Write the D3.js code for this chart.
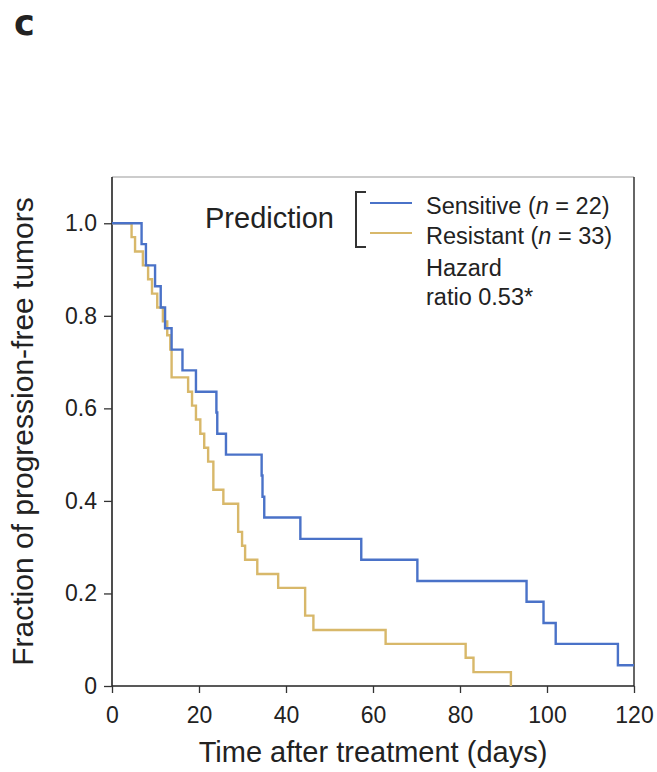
<!DOCTYPE html>
<html>
<head>
<meta charset="utf-8">
<script src="https://cdn.jsdelivr.net/npm/d3@7"></script>
<style>
  body { margin: 0; background: #fff; }
  text { font-family: "Liberation Sans", Arial, sans-serif; fill: #222; }
</style>
</head>
<body>
<div id="chart"></div>
<script>
// Kaplan-Meier steps (days, fraction progression-free)
let sensitive_days = [0, 6.8, 7.8, 9.9, 11.2, 12.2, 13.7, 16.2, 19.3, 24.0, 24.2, 26.2, 34.4, 34.6, 35.0, 43.3, 57.3, 70.2, 95.3, 99.2, 102.0, 116.3, 120];
let sensitive_frac = [1, 0.955, 0.909, 0.864, 0.818, 0.773, 0.727, 0.682, 0.636, 0.591, 0.545, 0.5, 0.455, 0.409, 0.364, 0.318, 0.273, 0.227, 0.182, 0.136, 0.091, 0.045, 0.045];

let resistant_days = [0, 4.5, 5.3, 7.1, 8.3, 9.2, 10.4, 11.7, 12.7, 13.4, 13.7, 17.5, 18.4, 19.3, 20.3, 21.2, 22.1, 23.3, 25.6, 29.0, 29.9, 30.6, 33.4, 38.2, 44.4, 46.3, 62.9, 81.3, 83.1, 91.7];
let resistant_frac = [1, 0.970, 0.939, 0.909, 0.879, 0.848, 0.818, 0.788, 0.758, 0.727, 0.667, 0.636, 0.606, 0.576, 0.545, 0.515, 0.485, 0.424, 0.394, 0.333, 0.303, 0.273, 0.242, 0.212, 0.152, 0.121, 0.091, 0.061, 0.030, 0];

let x_ticks = [0, 20, 40, 60, 80, 100, 120];
let y_ticks = [0, 0.2, 0.4, 0.6, 0.8, 1.0];
let y_tick_labels = ['0', '0.2', '0.4', '0.6', '0.8', '1.0'];

let chart_width  = 657;
let chart_height = 772;
let plot_left = 112, plot_right = 634, plot_top = 177, plot_bottom = 686;

let blue   = '#4a72c8';
let yellow = '#d8b86a';

//svg
let svg = d3.select('#chart')
            .append('svg')
            .attr('width', chart_width)
            .attr('height', chart_height);

//scales
let x_scale = d3.scaleLinear()
        .domain([0, 120])
        .range([plot_left, plot_right]);

let y_scale = d3.scaleLinear()
        .domain([0, 1.1])
        .range([plot_bottom, plot_top]);

//frame (top + right)
svg.append('line')
  .attr('x1', plot_left).attr('x2', plot_right)
  .attr('y1', plot_top).attr('y2', plot_top)
  .attr('stroke', '#9a9a9a').attr('stroke-width', 1.2);
svg.append('line')
  .attr('x1', plot_right).attr('x2', plot_right)
  .attr('y1', plot_top).attr('y2', plot_bottom)
  .attr('stroke', '#333').attr('stroke-width', 1.5);

//axes
let x_axis = d3.axisBottom(x_scale)
                .tickValues(x_ticks)
                .tickSize(7)
                .tickPadding(14)
                .tickSizeOuter(0);

let y_axis = d3.axisLeft(y_scale)
                .tickValues(y_ticks)
                .tickFormat((d, i) => y_tick_labels[i])
                .tickSize(8)
                .tickPadding(7)
                .tickSizeOuter(0);

let gx = svg.append('g')
  .attr('transform', 'translate(0,' + plot_bottom + ')')
  .call(x_axis);

let gy = svg.append('g')
  .attr('transform', 'translate(' + plot_left + ',0)')
  .call(y_axis);

gx.select('.domain').attr('d', 'M' + plot_left + ',0H' + plot_right);
gy.select('.domain').attr('d', 'M0,' + plot_top + 'V' + plot_bottom);

[gx, gy].forEach(g => {
  g.selectAll('.domain').attr('stroke', '#222').attr('stroke-width', 1.6);
  g.selectAll('.tick line').attr('stroke', '#333').attr('stroke-width', 1.3);
  g.selectAll('.tick text')
    .style('font-family', '"Liberation Sans", Arial, sans-serif')
    .style('font-size', '23px')
    .attr('fill', '#222');
});

//curves
let line = d3.line()
  .x(d => x_scale(d[0]))
  .y(d => y_scale(d[1]))
  .curve(d3.curveStepAfter);

let series = [
  { color: yellow, pts: d3.zip(resistant_days, resistant_frac) },
  { color: blue,   pts: d3.zip(sensitive_days, sensitive_frac) }
];

svg.append('g')
  .selectAll('path')
  .data(series)
  .enter()
  .append('path')
  .attr('d', d => line(d.pts))
  .attr('fill', 'none')
  .attr('stroke', d => d.color)
  .attr('stroke-width', 2.4);

//axis titles
svg.append('text')
  .attr('x', (plot_left + plot_right) / 2)
  .attr('y', 762)
  .attr('text-anchor', 'middle')
  .style('font-size', '29px')
  .text('Time after treatment (days)');

svg.append('text')
  .attr('transform', 'translate(33,' + (plot_top + plot_bottom) / 2 + ') rotate(-90)')
  .attr('text-anchor', 'middle')
  .style('font-size', '30px')
  .text('Fraction of progression-free tumors');

//legend
svg.append('text')
  .attr('x', 205).attr('y', 228)
  .style('font-size', '29px')
  .text('Prediction');

svg.append('path')
  .attr('d', 'M366,192H356V247H366')
  .attr('fill', 'none')
  .attr('stroke', '#333')
  .attr('stroke-width', 2);

let legend_items = [
  { label: 'Sensitive', n: '22', color: blue, y: 203 },
  { label: 'Resistant', n: '33', color: yellow, y: 233 }
];

let lg = svg.append('g')
  .selectAll('g')
  .data(legend_items)
  .enter()
  .append('g');

lg.append('line')
  .attr('x1', 370).attr('x2', 412)
  .attr('y1', d => d.y).attr('y2', d => d.y)
  .attr('stroke', d => d.color)
  .attr('stroke-width', 2);

let lt = lg.append('text')
  .attr('x', 426)
  .attr('y', d => d.y + 11)
  .style('font-size', '23.5px');
lt.append('tspan').text(d => d.label + ' (');
lt.append('tspan').style('font-style', 'italic').text('n');
lt.append('tspan').text(d => ' = ' + d.n + ')');

svg.append('text')
  .attr('x', 426).attr('y', 276)
  .style('font-size', '23.5px')
  .text('Hazard');
svg.append('text')
  .attr('x', 426).attr('y', 305)
  .style('font-size', '23.5px')
  .text('ratio 0.53*');

//panel letter
svg.append('text')
  .attr('x', 14).attr('y', 35)
  .style('font-family', '"DejaVu Sans", sans-serif')
  .style('font-weight', 'bold')
  .style('font-size', '35px')
  .attr('fill', '#000')
  .text('c');
</script>
</body>
</html>
